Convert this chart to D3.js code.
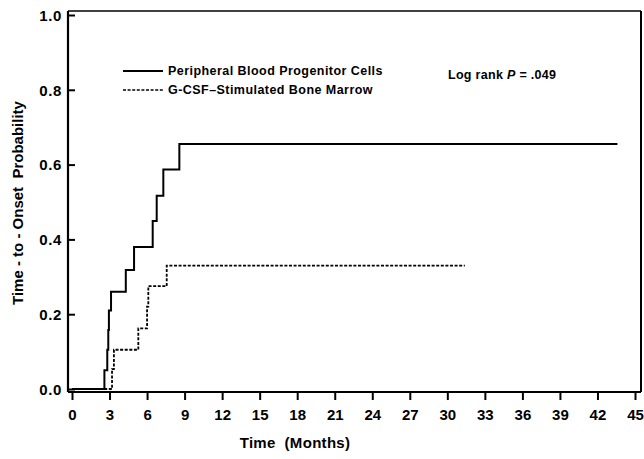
<!DOCTYPE html>
<html><head><meta charset="utf-8">
<script src="https://cdn.jsdelivr.net/npm/d3@7"></script>
<style>
html,body{margin:0;padding:0;background:#fff;}
svg text{font-family:"Liberation Sans",Arial,Helvetica,sans-serif;font-weight:bold;fill:#000;}
</style></head>
<body>
<svg id="c" width="644" height="459"></svg>
<script>
// ---- data ----
const xTicks = [0,3,6,9,12,15,18,21,24,27,30,33,36,39,42,45];
const yTicks = [0,0.2,0.4,0.6,0.8,1.0];
const pbpcTimes = [0, 2.59, 2.82, 2.9, 2.95, 3.12, 4.3, 4.96, 6.45, 6.77, 7.3, 8.58, 43.6];
const pbpcProb  = [0, 0.05, 0.105, 0.158, 0.21, 0.26, 0.318, 0.38, 0.449, 0.517, 0.587, 0.655, 0.655];
const bmTimes = [0, 3.2, 3.35, 5.3, 6.0, 6.1, 7.57, 31.4];
const bmProb  = [0, 0.053, 0.105, 0.162, 0.22, 0.275, 0.33, 0.33];
const seriesNames = ["Peripheral Blood Progenitor Cells", "G-CSF\u2013Stimulated Bone Marrow"];
const xTitle = "Time  (Months)";
const yTitle = "Time - to - Onset  Probability";

const svg = d3.select("#c");
const x = d3.scaleLinear().domain([0,45]).range([72,635]);
const y = d3.scaleLinear().domain([0,1]).range([389,15]);
const frameL = 68, frameR = 641, frameT = 11, frameB = 392;

// frame
svg.append("line").attr("x1",frameL).attr("x2",frameL).attr("y1",frameT).attr("y2",frameB).attr("stroke","#000").attr("stroke-width",2.2);
svg.append("line").attr("x1",frameL).attr("x2",frameR).attr("y1",frameT).attr("y2",frameT).attr("stroke","#000").attr("stroke-width",1.6);
svg.append("line").attr("x1",frameR).attr("x2",frameR).attr("y1",frameT).attr("y2",frameB).attr("stroke","#000").attr("stroke-width",2);
svg.append("line").attr("x1",frameL).attr("x2",frameR).attr("y1",frameB).attr("y2",frameB).attr("stroke","#000").attr("stroke-width",1.8);

// y axis (inward ticks)
const ya = svg.append("g").attr("transform",`translate(${frameL},0)`)
  .call(d3.axisLeft(y).tickValues(yTicks).tickFormat(d3.format(".1f")).tickSizeInner(-7).tickSizeOuter(0));
ya.select(".domain").remove();
ya.selectAll(".tick line").attr("stroke","#000").attr("stroke-width",2);
ya.selectAll(".tick text").attr("font-size",15).attr("letter-spacing","0.6px").attr("x",-6).attr("dy","0.35em");

// x axis
const xa = svg.append("g").attr("transform",`translate(0,${frameB})`)
  .call(d3.axisBottom(x).tickValues(xTicks).tickFormat(d3.format("d")).tickSizeInner(8).tickSizeOuter(0).tickPadding(9));
xa.select(".domain").remove();
xa.selectAll(".tick line").attr("stroke","#000").attr("stroke-width",2);
xa.selectAll(".tick text").attr("font-size",15);

// series
const line = d3.line().x(d=>x(d[0])).y(d=>y(d[1])).curve(d3.curveStepAfter);
svg.append("path").datum(d3.zip(pbpcTimes,pbpcProb)).attr("d",line)
  .attr("fill","none").attr("stroke","#000").attr("stroke-width",2);
svg.append("path").datum(d3.zip(bmTimes,bmProb)).attr("d",line)
  .attr("fill","none").attr("stroke","#000").attr("stroke-width",1.8).attr("stroke-dasharray","3,1.6");

// legend
const leg = [{y:71,dash:null,w:2},{y:90,dash:"3,1.6",w:1.6}];
leg.forEach((l,i)=>{
  svg.append("line").attr("x1",123).attr("x2",163).attr("y1",l.y).attr("y2",l.y)
    .attr("stroke","#000").attr("stroke-width",l.w).attr("stroke-dasharray",l.dash);
  svg.append("text").attr("x",168).attr("y",l.y).attr("dy","0.35em").attr("font-size",12.5).attr("letter-spacing","0.45px").text(seriesNames[i]);
});

// log rank
const lr = svg.append("text").attr("x",448).attr("y",75).attr("dy","0.35em").attr("font-size",12.5).attr("letter-spacing","0.3px");
lr.append("tspan").text("Log rank ");
lr.append("tspan").attr("font-style","italic").text("P");
lr.append("tspan").text(" =  .049");

// titles
svg.append("text").attr("x",295).attr("y",443).attr("text-anchor","middle").attr("dy","0.35em").attr("font-size",15).attr("letter-spacing","0.3px").style("white-space","pre").text(xTitle);
svg.append("text").attr("transform","translate(18,203) rotate(-90)").attr("text-anchor","middle").attr("dy","0.35em").attr("font-size",15).style("white-space","pre").text(yTitle);
</script>
</body></html>
